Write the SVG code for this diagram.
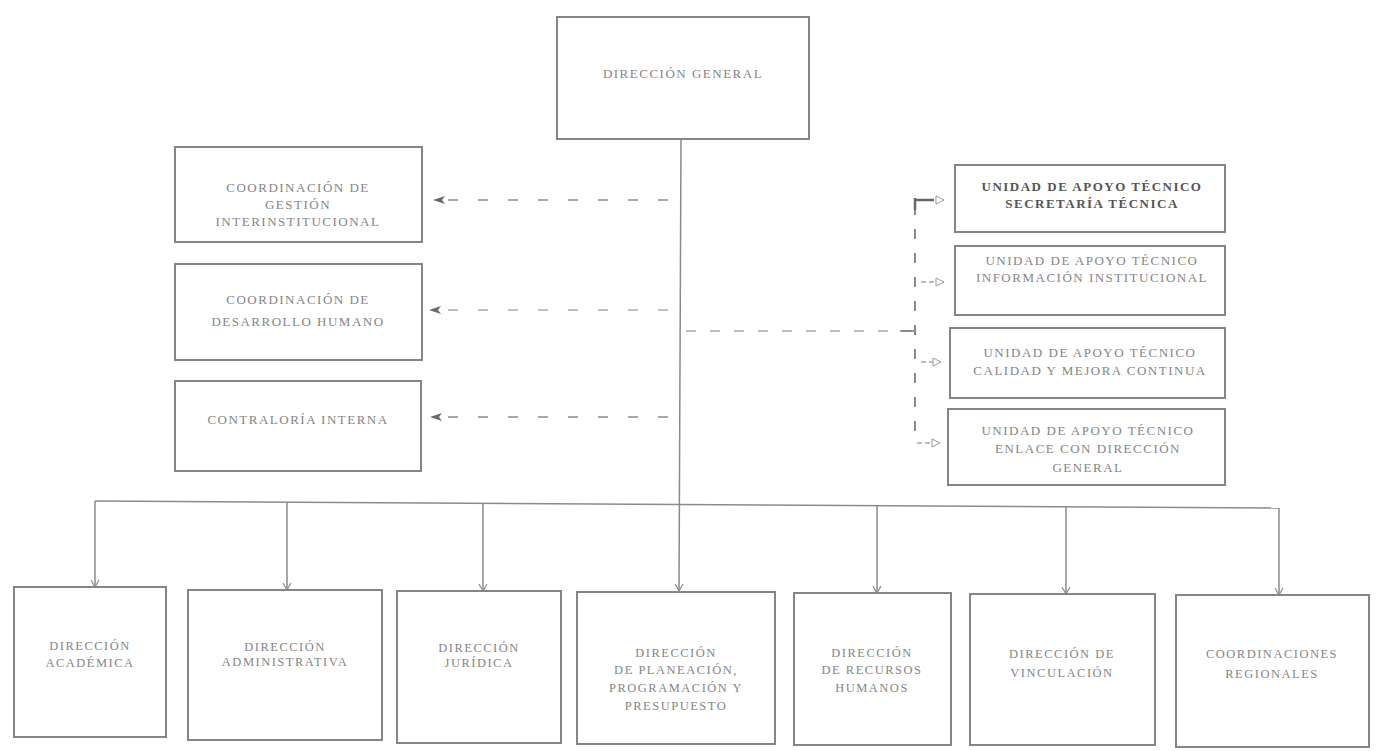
<svg xmlns="http://www.w3.org/2000/svg" width="1380" height="751" viewBox="0 0 1380 751">
<defs>
<style>
.box{fill:#fff;stroke:#858585;stroke-width:2}
.t{font-family:"Liberation Serif",serif;font-size:13px;fill:#858585;text-anchor:middle;letter-spacing:1.5px}
.td{fill:#555;font-weight:bold}
.b{font-size:12.5px}
.ln{stroke:#8a8a8a;stroke-width:1.5;fill:none}
.dl{stroke:#8c8c8c;stroke-width:1.5;fill:none;stroke-dasharray:10 20}
.dr{stroke:#a8a8a8;stroke-width:1.3;fill:none;stroke-dasharray:10 14}
</style>
<marker id="down" markerWidth="10" markerHeight="10" refX="8" refY="5" orient="auto" markerUnits="userSpaceOnUse" viewBox="0 0 10 10">
<path d="M1,1 L8,5 L1,9" fill="none" stroke="#8a8a8a" stroke-width="1.2"/>
</marker>
<marker id="left" markerWidth="14" markerHeight="10" refX="13" refY="5" orient="auto" markerUnits="userSpaceOnUse" viewBox="0 0 14 10">
<path d="M13,5 L1,1 L4,5 L1,9 Z" fill="#6a6a6a"/>
</marker>
<marker id="tri" markerWidth="10" markerHeight="10" refX="9" refY="5" orient="auto" markerUnits="userSpaceOnUse" viewBox="0 0 10 10">
<path d="M1,1 L9,5 L1,9 Z" fill="#fff" stroke="#9a9a9a" stroke-width="1"/>
</marker>
</defs>
<rect width="1380" height="751" fill="#fff"/>

<g id="connectors">
<line class="ln" x1="681" y1="139" x2="679" y2="591" marker-end="url(#down)"/>
<line class="ln" x1="95" y1="501" x2="1279" y2="508"/>
<line class="ln" x1="95" y1="501" x2="95" y2="587" marker-end="url(#down)"/>
<line class="ln" x1="287" y1="502" x2="287" y2="590" marker-end="url(#down)"/>
<line class="ln" x1="483" y1="503" x2="483" y2="591" marker-end="url(#down)"/>
<line class="ln" x1="877" y1="506" x2="877" y2="593" marker-end="url(#down)"/>
<line class="ln" x1="1066" y1="507" x2="1066" y2="594" marker-end="url(#down)"/>
<line class="ln" x1="1279" y1="508" x2="1279" y2="595" marker-end="url(#down)"/>

<line class="dl" x1="668" y1="200" x2="433" y2="200" marker-end="url(#left)"/>
<line class="dl" x1="668" y1="310" x2="429" y2="310" marker-end="url(#left)" style="stroke:#aaa"/>
<line class="dl" x1="668" y1="417" x2="430" y2="417" marker-end="url(#left)"/>

<path class="dr" d="M686,331 L915,331"/>
<line x1="900" y1="331" x2="916" y2="331" stroke="#777" stroke-width="1.5"/>
<path class="dr" d="M915,205 L915,443" style="stroke:#888;stroke-width:2"/>
<line x1="915" y1="200" x2="934" y2="200" stroke="#666" stroke-width="2.5"/>
<line x1="915" y1="198" x2="915" y2="210" stroke="#666" stroke-width="2.5"/>
<line x1="937" y1="200" x2="944" y2="200" stroke="#aaa" stroke-width="1.2" marker-end="url(#tri)"/>
<line class="dr" x1="921" y1="282" x2="944" y2="282" style="stroke-dasharray:5 3" marker-end="url(#tri)"/>
<line class="dr" x1="921" y1="362" x2="941" y2="362" style="stroke-dasharray:5 3" marker-end="url(#tri)"/>
<line class="dr" x1="917" y1="443" x2="940" y2="443" style="stroke-dasharray:5 3" marker-end="url(#tri)"/>
</g>

<g id="direccion-general">
<rect class="box" x="557" y="17" width="252" height="122"/>
<text class="t" x="683" y="78">DIRECCIÓN GENERAL</text>
</g>

<g id="coord-gestion">
<rect class="box" x="175" y="147" width="247" height="95"/>
<text class="t" x="298" y="192">COORDINACIÓN DE</text>
<text class="t" x="298" y="209">GESTIÓN</text>
<text class="t" x="298" y="226">INTERINSTITUCIONAL</text>
</g>

<g id="coord-desarrollo">
<rect class="box" x="175" y="264" width="247" height="96"/>
<text class="t" x="298" y="304">COORDINACIÓN DE</text>
<text class="t" x="298" y="326">DESARROLLO HUMANO</text>
</g>

<g id="contraloria">
<rect class="box" x="175" y="381" width="246" height="90"/>
<text class="t" x="298" y="424">CONTRALORÍA INTERNA</text>
</g>

<g id="uat-secretaria">
<rect class="box" x="955" y="165" width="270" height="67"/>
<text class="t td" x="1092" y="191">UNIDAD DE APOYO TÉCNICO</text>
<text class="t td" x="1092" y="208">SECRETARÍA TÉCNICA</text>
</g>

<g id="uat-informacion">
<rect class="box" x="955" y="246" width="270" height="69"/>
<text class="t" x="1092" y="265">UNIDAD DE APOYO TÉCNICO</text>
<text class="t" x="1092" y="282">INFORMACIÓN INSTITUCIONAL</text>
</g>

<g id="uat-calidad">
<rect class="box" x="950" y="328" width="275" height="70"/>
<text class="t" x="1090" y="357">UNIDAD DE APOYO TÉCNICO</text>
<text class="t" x="1090" y="375">CALIDAD Y MEJORA CONTINUA</text>
</g>

<g id="uat-enlace">
<rect class="box" x="948" y="409" width="277" height="76"/>
<text class="t" x="1088" y="435">UNIDAD DE APOYO TÉCNICO</text>
<text class="t" x="1088" y="453">ENLACE CON DIRECCIÓN</text>
<text class="t" x="1088" y="472">GENERAL</text>
</g>

<g id="dir-academica">
<rect class="box" x="14" y="587" width="152" height="150"/>
<text class="t b" x="90" y="650">DIRECCIÓN</text>
<text class="t b" x="90" y="667">ACADÉMICA</text>
</g>

<g id="dir-administrativa">
<rect class="box" x="188" y="590" width="194" height="150"/>
<text class="t b" x="285" y="651">DIRECCIÓN</text>
<text class="t b" x="285" y="666">ADMINISTRATIVA</text>
</g>

<g id="dir-juridica">
<rect class="box" x="397" y="591" width="164" height="152"/>
<text class="t b" x="479" y="652">DIRECCIÓN</text>
<text class="t b" x="479" y="667">JURÍDICA</text>
</g>

<g id="dir-planeacion">
<rect class="box" x="577" y="592" width="198" height="152"/>
<text class="t b" x="676" y="657">DIRECCIÓN</text>
<text class="t b" x="676" y="674">DE PLANEACIÓN,</text>
<text class="t b" x="676" y="692">PROGRAMACIÓN Y</text>
<text class="t b" x="676" y="710">PRESUPUESTO</text>
</g>

<g id="dir-recursos">
<rect class="box" x="794" y="593" width="157" height="152"/>
<text class="t b" x="872" y="657">DIRECCIÓN</text>
<text class="t b" x="872" y="674">DE RECURSOS</text>
<text class="t b" x="872" y="692">HUMANOS</text>
</g>

<g id="dir-vinculacion">
<rect class="box" x="970" y="594" width="185" height="151"/>
<text class="t b" x="1062" y="658">DIRECCIÓN DE</text>
<text class="t b" x="1062" y="677">VINCULACIÓN</text>
</g>

<g id="coord-regionales">
<rect class="box" x="1176" y="595" width="193" height="152"/>
<text class="t b" x="1272" y="658">COORDINACIONES</text>
<text class="t b" x="1272" y="678">REGIONALES</text>
</g>
</svg>
